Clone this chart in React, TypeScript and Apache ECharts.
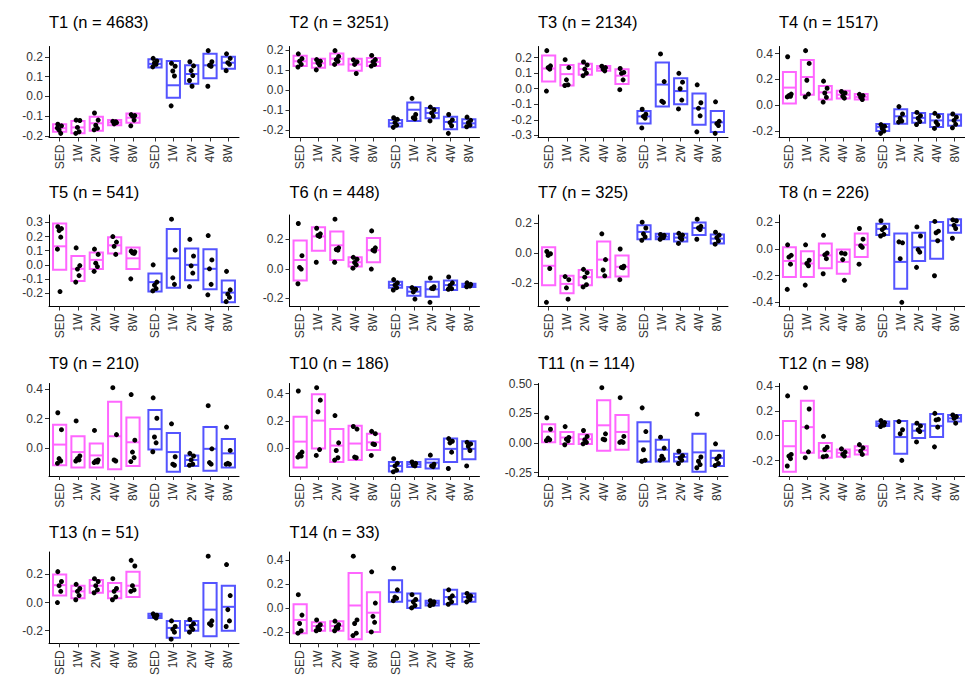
import React, { useEffect, useRef } from "react";
import * as echarts from "echarts";

// ---------- DATA ----------
const GROUPS = ["SED", "1W", "2W", "4W", "8W"];
const PANEL_NAMES = ["T1","T2","T3","T4","T5","T6","T7","T8","T9","T10","T11","T12","T13","T14"];
const PANEL_N = [4683, 3251, 2134, 1517, 541, 448, 325, 226, 210, 186, 114, 98, 51, 33];

const TICKS: string[][] = [
  ["-0.2","-0.1","0.0","0.1","0.2"],
  ["-0.2","-0.1","0.0","0.1","0.2"],
  ["-0.3","-0.2","-0.1","0.0","0.1","0.2"],
  ["-0.2","0.0","0.2","0.4"],
  ["-0.2","-0.1","0.0","0.1","0.2","0.3"],
  ["-0.2","0.0","0.2"],
  ["-0.2","0.0","0.2"],
  ["-0.4","-0.2","0.0","0.2"],
  ["0.0","0.2","0.4"],
  ["0.0","0.2","0.4"],
  ["-0.25","0.00","0.25","0.50"],
  ["-0.2","0.0","0.2","0.4"],
  ["-0.2","0.0","0.2"],
  ["-0.2","0.0","0.2","0.4"],
];

// boxes: [low, middle, high] for SED..8W (pink) then SED..8W (blue)
const T1_BOX = [[-0.179,-0.161,-0.141],[-0.187,-0.157,-0.125],[-0.174,-0.136,-0.103],[-0.146,-0.132,-0.120],[-0.133,-0.108,-0.087],
  [0.146,0.164,0.187],[-0.007,0.056,0.179],[0.064,0.113,0.157],[0.092,0.157,0.215],[0.139,0.170,0.200]];
const T1_PTS = [[-0.141,-0.149,-0.170,-0.187,-0.160],[-0.120,-0.122,-0.157,-0.179,-0.187],[-0.084,-0.120,-0.146,-0.162,-0.169],[-0.126,-0.133,-0.139,-0.128],[-0.092,-0.097,-0.100,-0.120,-0.149],
  [0.192,0.179,0.169,0.162,0.149],[0.167,0.152,0.128,0.103,-0.048],[0.175,0.154,0.130,0.105,0.080,0.051],[0.231,0.175,0.157,0.152,0.051],[0.215,0.192,0.170,0.162,0.130]];

const T2_BOX = [[0.121,0.145,0.173],[0.113,0.135,0.158],[0.129,0.158,0.184],[0.097,0.129,0.158],[0.121,0.142,0.161],
  [-0.181,-0.165,-0.148],[-0.153,-0.097,-0.061],[-0.140,-0.113,-0.089],[-0.194,-0.158,-0.132],[-0.185,-0.165,-0.145]];
const T2_PTS = [[0.182,0.158,0.145,0.129,0.116],[0.153,0.145,0.137,0.126,0.102],[0.198,0.169,0.153,0.145,0.129],[0.152,0.142,0.129,0.084],[0.174,0.153,0.142,0.129,0.121],
  [-0.137,-0.145,-0.161,-0.174,-0.185],[-0.040,-0.121,-0.137,-0.142],[-0.084,-0.097,-0.113,-0.129,-0.153],[-0.121,-0.148,-0.161,-0.177,-0.215],[-0.134,-0.150,-0.161,-0.174,-0.182]];

const T3_BOX = [[0.046,0.130,0.214],[0.021,0.094,0.153],[0.090,0.126,0.161],[0.115,0.132,0.147],[0.031,0.084,0.126],
  [-0.224,-0.178,-0.143],[-0.115,0.027,0.168],[-0.099,-0.015,0.067],[-0.231,-0.126,-0.031],[-0.279,-0.216,-0.143]];
const T3_PTS = [[0.245,0.147,0.136,0.126,-0.015],[0.187,0.136,0.057,0.025,0.021],[0.172,0.153,0.126,0.100,0.084],[0.145,0.136,0.126,0.115],[0.130,0.105,0.099,0.057,-0.006],
  [-0.132,-0.164,-0.178,-0.189,-0.252],[0.224,0.046,-0.080,-0.088],[0.099,0.042,0.000,-0.073,-0.130],[0.025,-0.090,-0.126,-0.174,-0.277],[-0.084,-0.210,-0.224,-0.237,-0.287]];

const T4_BOX = [[0.015,0.137,0.257],[0.082,0.219,0.351],[0.045,0.100,0.149],[0.052,0.082,0.112],[0.045,0.065,0.087],
  [-0.199,-0.167,-0.144],[-0.142,-0.085,-0.030],[-0.134,-0.097,-0.060],[-0.167,-0.117,-0.067],[-0.159,-0.117,-0.072]];
const T4_PTS = [[0.376,0.087,0.075,0.070,0.065],[0.423,0.324,0.194,0.087,0.065],[0.187,0.132,0.095,0.062,0.025],[0.107,0.095,0.070,0.055],[0.085,0.075,0.062,0.045],
  [-0.149,-0.162,-0.179,-0.199,-0.217],[-0.010,-0.067,-0.100,-0.122,-0.130],[-0.055,-0.080,-0.100,-0.125,-0.149],[-0.062,-0.085,-0.130,-0.149,-0.179],[-0.067,-0.092,-0.117,-0.147,-0.174]];

const T5_BOX = [[-0.035,0.131,0.293],[-0.115,-0.028,0.062],[-0.030,0.035,0.088],[0.081,0.138,0.196],[-0.030,0.046,0.122],
  [-0.189,-0.122,-0.062],[-0.161,0.046,0.253],[-0.108,0.000,0.115],[-0.173,-0.028,0.111],[-0.265,-0.196,-0.111]];
const T5_PTS = [[0.270,0.256,0.242,0.196,0.111,-0.189],[0.120,-0.005,-0.030,-0.076,-0.122],[0.111,0.074,0.012,-0.012,-0.046],[0.200,0.161,0.131,0.074],[0.097,0.092,0.085,0.081,-0.099],
  [0.000,-0.122,-0.143,-0.168,-0.184],[0.323,0.104,-0.092,-0.138],[0.180,0.062,-0.007,-0.058,-0.154],[0.207,0.035,-0.028,-0.138,-0.212],[-0.046,-0.177,-0.207,-0.230,-0.260]];

const T6_BOX = [[-0.079,0.059,0.191],[0.121,0.218,0.279],[0.059,0.158,0.251],[0.015,0.044,0.077],[0.044,0.125,0.207],
  [-0.127,-0.110,-0.088],[-0.182,-0.154,-0.123],[-0.189,-0.138,-0.088],[-0.143,-0.110,-0.079],[-0.123,-0.112,-0.101]];
const T6_PTS = [[0.305,0.088,0.009,-0.002,-0.101],[0.273,0.235,0.224,0.218,0.044],[0.334,0.141,0.130,0.125,0.044],[0.077,0.064,0.042,0.026,0.004],[0.255,0.141,0.125,0.119,-0.002],
  [-0.073,-0.095,-0.110,-0.127,-0.143],[-0.127,-0.138,-0.156,-0.204],[-0.062,-0.121,-0.132,-0.134,-0.226],[-0.055,-0.095,-0.112,-0.134,-0.138],[-0.095,-0.105,-0.112,-0.116,-0.121]];

const T7_BOX = [[-0.216,-0.086,0.037],[-0.270,-0.207,-0.153],[-0.216,-0.162,-0.114],[-0.162,-0.045,0.076],[-0.158,-0.093,-0.017],
  [0.091,0.140,0.184],[0.091,0.108,0.127],[0.076,0.102,0.127],[0.119,0.166,0.203],[0.063,0.095,0.123]];
const T7_PTS = [[0.009,-0.006,-0.017,-0.104,-0.330],[-0.158,-0.179,-0.233,-0.309],[-0.110,-0.132,-0.162,-0.212,-0.227],[0.127,-0.045,-0.114,-0.153],[0.026,-0.089,-0.097,-0.099,-0.179],
  [0.205,0.166,0.127,0.106,0.084],[0.123,0.117,0.108,0.102,0.091],[0.130,0.119,0.102,0.091,0.063],[0.225,0.177,0.166,0.156,0.091],[0.138,0.119,0.102,0.080,0.058]];

const T8_BOX = [[-0.211,-0.090,0.012],[-0.211,-0.109,-0.017],[-0.145,-0.048,0.041],[-0.186,-0.097,-0.005],[-0.061,0.031,0.116],
  [0.104,0.150,0.189],[-0.298,-0.097,0.116],[-0.090,0.012,0.121],[-0.073,0.061,0.201],[0.121,0.177,0.223]];
const T8_PTS = [[0.031,-0.048,-0.061,-0.114,-0.303],[0.031,-0.085,-0.109,-0.126,-0.271],[0.102,-0.031,-0.044,-0.073,-0.186],[-0.031,-0.036,-0.080,-0.235],[0.153,0.073,0.024,0.012,-0.114],
  [0.211,0.162,0.145,0.109,0.097],[0.053,0.046,-0.073,-0.400],[0.165,0.097,-0.005,-0.024,-0.138],[0.206,0.133,0.121,0.061,-0.201],[0.218,0.211,0.177,0.153,0.080]];

const T9_BOX = [[-0.119,0.022,0.157],[-0.135,-0.029,0.079],[-0.135,-0.052,0.029],[-0.146,0.079,0.315],[-0.124,0.038,0.207],
  [-0.011,0.128,0.258],[-0.164,-0.029,0.101],[-0.124,-0.083,-0.052],[-0.157,-0.007,0.142],[-0.135,-0.038,0.061]];
const T9_PTS = [[0.240,0.124,-0.074,-0.090,-0.106],[0.184,-0.056,-0.074,-0.083,-0.090],[0.119,-0.083,-0.090,-0.097,-0.101],[0.411,0.090,-0.083,-0.090],[0.364,0.052,-0.029,-0.067,-0.094],
  [0.342,0.202,0.074,0.034,-0.027],[0.164,-0.061,-0.112,-0.119],[-0.038,-0.056,-0.083,-0.112,-0.119],[0.288,-0.007,-0.101,-0.112],[0.142,-0.018,-0.106,-0.112,-0.112]];

const T10_BOX = [[-0.142,0.048,0.231],[-0.002,0.202,0.395],[-0.101,0.019,0.140],[-0.087,0.034,0.164],[-0.014,0.043,0.106],
  [-0.171,-0.130,-0.101],[-0.137,-0.118,-0.101],[-0.149,-0.106,-0.082],[-0.101,-0.005,0.070],[-0.082,-0.005,0.051]];
const T10_PTS = [[0.419,-0.029,-0.046,-0.058,-0.065],[0.443,0.352,0.267,-0.010,-0.053],[0.239,0.039,-0.017,-0.070,-0.087],[0.159,0.140,-0.065,-0.070],[0.123,0.106,0.031,0.027,-0.053],
  [-0.077,-0.111,-0.130,-0.161,-0.173],[-0.101,-0.111,-0.123,-0.130],[-0.051,-0.118,-0.130,-0.135],[0.070,0.051,0.039,-0.029,-0.149],[0.043,0.031,0.014,-0.017,-0.130]];

const T11_BOX = [[0.008,0.097,0.158],[-0.008,0.047,0.094],[-0.008,0.033,0.075],[-0.064,0.150,0.361],[-0.056,0.094,0.236],
  [-0.158,0.014,0.175],[-0.156,-0.056,0.028],[-0.156,-0.117,-0.089],[-0.242,-0.078,0.078],[-0.194,-0.125,-0.064]];
const T11_PTS = [[0.214,0.117,0.042,0.028,0.022],[0.139,0.047,0.033,0.019,-0.014],[0.106,0.056,0.028,0.006,-0.006],[0.467,0.078,0.033,0.028],[0.383,0.056,0.014,0.006,0.006],
  [0.297,0.097,-0.056,-0.144,-0.153],[0.050,-0.042,-0.111,-0.133,-0.144],[-0.069,-0.106,-0.125,-0.144,-0.172],[0.244,-0.117,-0.153,-0.181,-0.208],[-0.006,-0.111,-0.133,-0.172,-0.189]];

const T12_BOX = [[-0.291,-0.085,0.119],[-0.138,0.069,0.281],[-0.177,-0.125,-0.058],[-0.170,-0.138,-0.111],[-0.151,-0.117,-0.085],
  [0.079,0.095,0.114],[-0.146,-0.011,0.119],[-0.019,0.040,0.093],[-0.011,0.079,0.175],[0.114,0.140,0.167]];
const T12_PTS = [[0.321,-0.151,-0.164,-0.185,-0.244],[0.387,0.215,0.069,-0.130,-0.177],[-0.005,-0.093,-0.111,-0.164,-0.170],[-0.106,-0.132,-0.151,-0.164],[-0.072,-0.098,-0.125,-0.151],
  [0.122,0.106,0.095,0.085,0.074],[0.114,0.048,0.016,-0.199],[0.101,0.079,0.048,0.034,-0.050],[0.180,0.132,0.127,0.069,-0.090],[0.167,0.154,0.140,0.101]];

const T13_BOX = [[0.05,0.124,0.20],[0.03,0.08,0.12],[0.07,0.12,0.16],[0.03,0.08,0.14],[0.04,0.12,0.22],
  [-0.11,-0.095,-0.08],[-0.25,-0.18,-0.13],[-0.20,-0.16,-0.13],[-0.24,-0.05,0.14],[-0.20,-0.03,0.12]];
const T13_PTS = [[0.22,0.15,0.12,0.08,0.0],[0.13,0.10,0.08,0.05,0.02],[0.17,0.15,0.12,0.09,0.07],[0.17,0.10,0.08,0.04,0.02],[0.30,0.26,0.12,0.09,0.08],
  [-0.08,-0.09,-0.10,-0.11],[-0.13,-0.17,-0.19,-0.21,-0.26],[-0.12,-0.15,-0.17,-0.19,-0.21],[0.33,-0.13,-0.15,-0.16],[0.27,0.05,-0.05,-0.13,-0.17]];

const T14_BOX = [[-0.21,-0.10,0.03],[-0.19,-0.15,-0.12],[-0.19,-0.15,-0.11],[-0.26,0.02,0.29],[-0.20,-0.04,0.13],
  [0.05,0.13,0.23],[0.0,0.06,0.12],[0.02,0.04,0.06],[0.03,0.09,0.15],[0.05,0.09,0.12]];
const T14_PTS = [[0.11,-0.06,-0.13,-0.19,-0.21],[-0.10,-0.14,-0.16,-0.18,-0.19],[-0.11,-0.14,-0.16,-0.17,-0.19],[0.43,-0.10,-0.13,-0.21,-0.23],[0.30,0.04,-0.07,-0.12,-0.20],
  [0.33,0.15,0.09,0.08,0.06],[0.11,0.07,0.05,0.02,0.0],[0.06,0.05,0.04,0.03,0.02],[0.15,0.10,0.08,0.05,0.03],[0.12,0.10,0.09,0.07,0.05]];

const BOXES = [T1_BOX,T2_BOX,T3_BOX,T4_BOX,T5_BOX,T6_BOX,T7_BOX,T8_BOX,T9_BOX,T10_BOX,T11_BOX,T12_BOX,T13_BOX,T14_BOX];
const POINTS = [T1_PTS,T2_PTS,T3_PTS,T4_PTS,T5_PTS,T6_PTS,T7_PTS,T8_PTS,T9_PTS,T10_PTS,T11_PTS,T12_PTS,T13_PTS,T14_PTS];

// ---------- LAYOUT / STYLE ----------
const X_POS = [0, 1, 2, 3, 4, 5.2, 6.2, 7.2, 8.2, 9.2];
const X_MIN = -0.58, X_MAX = 9.78;
const JITTER = [-0.1, 0.1, -0.03, 0.06, -0.12, 0.02];
const BOX_W = 0.72;
const PINK = "#FF66FF";
const BLUE = "#5454FF";
const COL_LEFT = [49, 289.5, 538, 779];
const PLOT_W = 190;
const ROW_TOP = [46.5, 215, 383.5, 552];
const ROW_H = [91, 91.5, 92.5, 92.5];
const TITLE_TOP = [13, 183, 354, 523];
const FONT = "'Liberation Sans', Arial, Helvetica, sans-serif";
const LABEL_COLOR = "#333333";
const LABEL_SIZE = 12;

function buildOption() {
  const grid: any[] = [], xAxis: any[] = [], yAxis: any[] = [], series: any[] = [], title: any[] = [];
  PANEL_NAMES.forEach((name, i) => {
    const r = Math.floor(i / 4), c = i % 4;
    const box = BOXES[i], pts = POINTS[i];
    let lo = Infinity, hi = -Infinity;
    box.forEach((b) => { lo = Math.min(lo, b[0]); hi = Math.max(hi, b[2]); });
    pts.forEach((a) => a.forEach((v) => { lo = Math.min(lo, v); hi = Math.max(hi, v); }));
    const pad = (hi - lo) * 0.05;
    const tickVals = TICKS[i].map(Number);
    const tickLabels = TICKS[i];

    title.push({
      text: `${name} (n = ${PANEL_N[i]})`,
      left: COL_LEFT[c], top: TITLE_TOP[r], padding: 0,
      textStyle: { fontSize: 16.5, fontWeight: "normal", color: "#000", fontFamily: FONT },
    });
    grid.push({ left: COL_LEFT[c], top: ROW_TOP[r], width: PLOT_W, height: ROW_H[r], containLabel: false });
    xAxis.push({
      type: "value", gridIndex: i, min: X_MIN, max: X_MAX,
      splitLine: { show: false },
      axisLine: { onZero: false, lineStyle: { color: "#000", width: 1 } },
      axisTick: { customValues: X_POS, length: 4, lineStyle: { color: "#333" } },
      axisLabel: {
        customValues: X_POS, rotate: 90, margin: 7, fontSize: LABEL_SIZE, color: LABEL_COLOR, fontFamily: FONT,
        formatter: (v: number) => {
          const k = X_POS.findIndex((p) => Math.abs(p - v) < 1e-6);
          return k < 0 ? "" : GROUPS[k % 5];
        },
      },
    });
    yAxis.push({
      type: "value", gridIndex: i, min: lo - pad, max: hi + pad,
      splitLine: { show: false },
      axisLine: { onZero: false, lineStyle: { color: "#000", width: 1 } },
      axisTick: { customValues: tickVals, length: 4, lineStyle: { color: "#333" } },
      axisLabel: {
        customValues: tickVals, margin: 6, fontSize: LABEL_SIZE, color: LABEL_COLOR, fontFamily: FONT,
        formatter: (v: number) => {
          const k = tickVals.findIndex((t) => Math.abs(t - v) < 1e-6);
          return k < 0 ? "" : tickLabels[k];
        },
      },
    });
    series.push({
      type: "custom", xAxisIndex: i, yAxisIndex: i, clip: false, z: 2,
      encode: { x: 0, y: [1, 3] },
      data: box.map((b, g) => [X_POS[g], b[0], b[1], b[2], g < 5 ? 0 : 1]),
      renderItem: (_p: any, api: any) => {
        const x = api.value(0);
        const col = api.value(4) === 0 ? PINK : BLUE;
        const top = api.coord([x, api.value(3)]);
        const bot = api.coord([x, api.value(1)]);
        const mid = api.coord([x, api.value(2)]);
        const w = api.size([BOX_W, 0])[0];
        return {
          type: "group",
          children: [
            { type: "rect", shape: { x: top[0] - w / 2, y: top[1], width: w, height: bot[1] - top[1] },
              style: { fill: "none", stroke: col, lineWidth: 2 } },
            { type: "line", shape: { x1: top[0] - w / 2, y1: mid[1], x2: top[0] + w / 2, y2: mid[1] },
              style: { stroke: col, lineWidth: 2 } },
          ],
        };
      },
    });
    const sdata: number[][] = [];
    pts.forEach((arr, g) => arr.forEach((v, k) => sdata.push([X_POS[g] + JITTER[k % JITTER.length], v])));
    series.push({
      type: "scatter", xAxisIndex: i, yAxisIndex: i, z: 3, symbol: "circle", symbolSize: 5,
      itemStyle: { color: "#000", opacity: 1 }, data: sdata, silent: true,
    });
  });
  return { animation: false, backgroundColor: "#fff", title, grid, xAxis, yAxis, series };
}

export default function App() {
  const ref = useRef<HTMLDivElement>(null);
  useEffect(() => {
    if (!ref.current) return;
    const chart = echarts.init(ref.current, undefined, { renderer: "svg" });
    chart.setOption(buildOption() as any);
    return () => chart.dispose();
  }, []);
  return <div ref={ref} style={{ position: "absolute", left: 0, top: 0, width: 965, height: 678 }} />;
}
